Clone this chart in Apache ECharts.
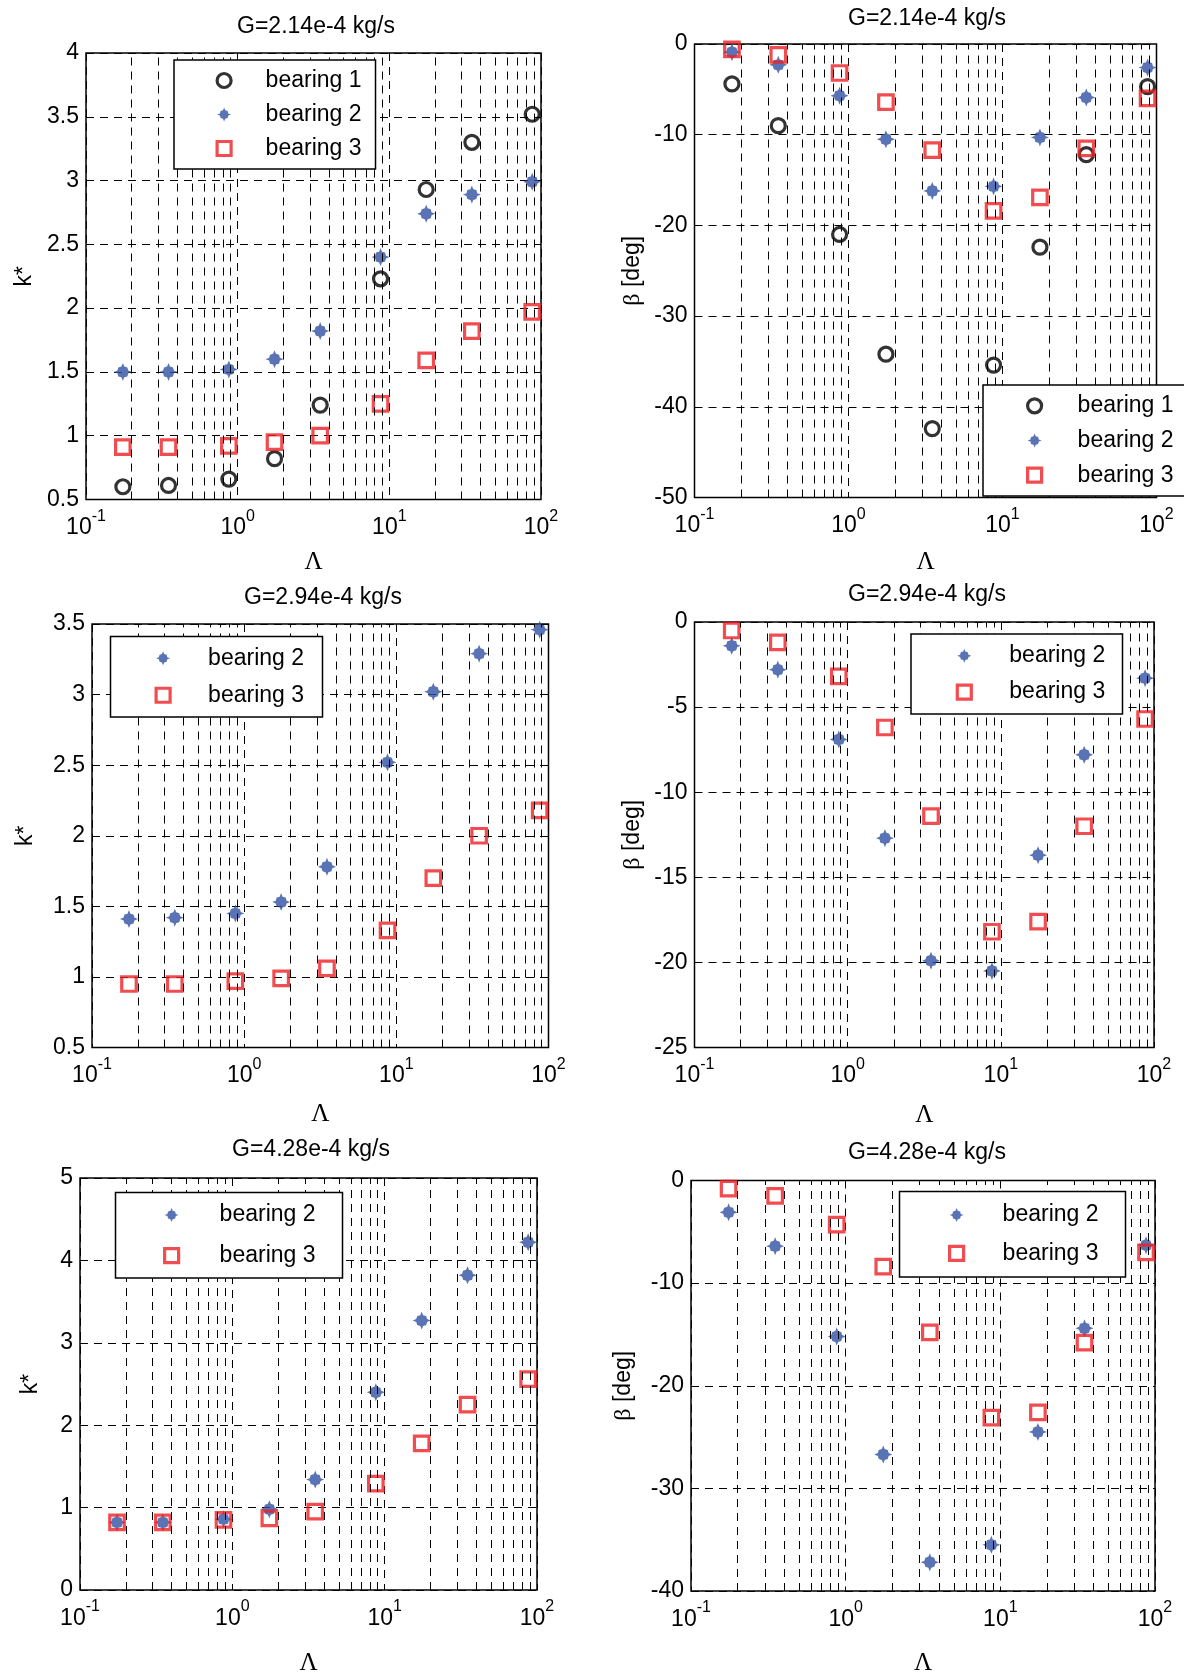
<!DOCTYPE html>
<html><head><meta charset="utf-8">
<script src="https://cdn.jsdelivr.net/npm/echarts@6/dist/echarts.min.js"></script>
<style>html,body{margin:0;padding:0;background:#fff}#c{width:1184px;height:1677px}</style>
</head><body><div id="c"></div>
<script>
// ---------- data ----------
const lambda = [0.175, 0.35, 0.875, 1.75, 3.5, 8.75, 17.5, 35, 87.5];
const xTickValues = [0.1, 1, 10, 100];
const minorGridValues = [0.2,0.3,0.4,0.5,0.6,0.7,0.8,0.9,2,3,4,5,6,7,8,9,20,30,40,50,60,70,80,90];
const titleTexts = ['G=2.14e-4 kg/s','G=2.14e-4 kg/s','G=2.94e-4 kg/s','G=2.94e-4 kg/s','G=4.28e-4 kg/s','G=4.28e-4 kg/s'];
const yNames = ['k*','{g|β} [deg]','k*','{g|β} [deg]','k*','{g|β} [deg]'];
const xName = 'Λ';

// G = 2.14e-4 kg/s : stiffness k*
const k214_b1 = [0.60, 0.61, 0.66, 0.82, 1.24, 2.23, 2.93, 3.30, 3.52];
const k214_b2 = [1.50, 1.50, 1.52, 1.60, 1.82, 2.40, 2.74, 2.89, 2.99];
const k214_b3 = [0.91, 0.91, 0.92, 0.95, 1.00, 1.25, 1.59, 1.82, 1.97];
// G = 2.14e-4 kg/s : beta [deg]
const b214_b1 = [-4.4, -9.0, -21.0, -34.2, -42.4, -35.4, -22.4, -12.2, -4.7];
const b214_b2 = [-0.9, -2.3, -5.7, -10.5, -16.2, -15.7, -10.3, -5.9, -2.6];
const b214_b3 = [-0.6, -1.2, -3.2, -6.4, -11.7, -18.4, -16.9, -11.5, -6.0];
// G = 2.94e-4 kg/s
const k294_b2 = [1.41, 1.42, 1.45, 1.53, 1.78, 2.52, 3.02, 3.29, 3.46];
const k294_b3 = [0.95, 0.95, 0.97, 0.99, 1.06, 1.33, 1.70, 2.00, 2.18];
const b294_b2 = [-1.4, -2.8, -6.9, -12.7, -19.9, -20.5, -13.7, -7.8, -3.3];
const b294_b3 = [-0.5, -1.2, -3.2, -6.2, -11.4, -18.2, -17.6, -12.0, -5.7];
// G = 4.28e-4 kg/s
const k428_b2 = [0.82, 0.82, 0.86, 0.98, 1.34, 2.40, 3.27, 3.82, 4.22];
const k428_b3 = [0.82, 0.82, 0.85, 0.87, 0.95, 1.29, 1.78, 2.25, 2.56];
const b428_b2 = [-3.1, -6.4, -15.2, -26.7, -37.2, -35.5, -24.5, -14.4, -6.3];
const b428_b3 = [-0.8, -1.5, -4.3, -8.4, -14.8, -23.1, -22.6, -15.8, -7.0];

// y-axis ranges [min, max, interval]
const yRanges = [[0.5,4,0.5],[-50,0,10],[0.5,3.5,0.5],[-25,0,5],[0,5,1],[-40,0,10]];

// ---------- styles / layout ----------
const SANS = "'Liberation Sans', Arial, Helvetica, sans-serif";
const SERIF = "'Liberation Serif', 'Times New Roman', serif";
const STAR = 'path://M0,-10 L1.6,-6 L5,-5 L6,-1.6 L10,0 L6,1.6 L5,5 L1.6,6 L0,10 L-1.6,6 L-5,5 L-6,1.6 L-10,0 L-6,-1.6 L-5,-5 L-1.6,-6 Z';
const styles = {
  'bearing 1': {symbol:'circle', symbolSize:14, itemStyle:{color:'rgba(0,0,0,0)', borderColor:'#000', borderWidth:3.2}, icon:'circle', bw:3.2},
  'bearing 2': {symbol:STAR, symbolSize:18, itemStyle:{color:'#3050a2', borderWidth:0}, icon:STAR, bw:0},
  'bearing 3': {symbol:'rect', symbolSize:14.5, itemStyle:{color:'rgba(0,0,0,0)', borderColor:'#ee2024', borderWidth:3.2}, icon:'rect', bw:3.2}
};
const gridLine = {type:[8,6], color:'#000', width:1};

const panels = [
  {grid:{left:86, top:53, width:455, height:446.5}, title:[311,22], yGap:50, xGap:50,
   legend:{left:174, top:60, padding:[9,14,9,41.5], tp:29.5, gap:11},
   series:[['bearing 1',k214_b1],['bearing 2',k214_b2],['bearing 3',k214_b3]]},
  {grid:{left:694.5, top:44, width:462, height:453.5}, title:[922,14], yGap:50, xGap:52,
   legend:{left:983, top:385, padding:[9.3,20,9.3,43], tp:31, gap:11.7},
   series:[['bearing 1',b214_b1],['bearing 2',b214_b2],['bearing 3',b214_b3]]},
  {grid:{left:92, top:624, width:456.5, height:423.5}, title:[318,593], yGap:55, xGap:54,
   legend:{left:110.5, top:636.5, padding:[10.25,18.5,10.25,44], tp:33, gap:14},
   series:[['bearing 2',k294_b2],['bearing 3',k294_b3]]},
  {grid:{left:694.5, top:622, width:459.5, height:425.5}, title:[922,590], yGap:50, xGap:55,
   legend:{left:911, top:634, padding:[10.3,17.3,10.3,44.7], tp:33, gap:13.3},
   series:[['bearing 2',b294_b2],['bearing 3',b294_b3]]},
  {grid:{left:80, top:1178, width:457, height:414}, title:[306,1145], yGap:38, xGap:61,
   legend:{left:115.5, top:1192.6, padding:[10.9,27,10.9,47.5], tp:36, gap:17.6},
   series:[['bearing 2',k428_b2],['bearing 3',k428_b3]]},
  {grid:{left:691, top:1180.5, width:464, height:412}, title:[922,1148], yGap:55, xGap:60,
   legend:{left:899.5, top:1191.5, padding:[12,27,12,48.5], tp:34, gap:15.4},
   series:[['bearing 2',b428_b2],['bearing 3',b428_b3]]}
];

const option = {animation:false, backgroundColor:'#fff', title:[], grid:[], xAxis:[], yAxis:[], legend:[], series:[]};

panels.forEach((p, i) => {
  option.grid.push(Object.assign({show:true, borderColor:'#000', borderWidth:1.5, backgroundColor:'transparent'}, p.grid));
  option.title.push({text:titleTexts[i], left:p.title[0], top:p.title[1]-12, textAlign:'center',
    textStyle:{fontSize:23, fontWeight:'normal', color:'#000', fontFamily:SANS}});
  option.xAxis.push({gridIndex:i, type:'log', logBase:10, min:xTickValues[0], max:xTickValues[xTickValues.length-1],
    axisLine:{show:false}, axisTick:{show:false},
    splitLine:{show:true, lineStyle:gridLine},
    axisLabel:{margin:9, color:'#000', fontFamily:SANS,
      formatter:v => '{b|10}{s|' + Math.round(Math.log10(v)) + '}',
      rich:{b:{fontSize:23, lineHeight:31, verticalAlign:'bottom', fontFamily:SANS, color:'#000'},
            s:{fontSize:16, lineHeight:15, verticalAlign:'top', fontFamily:SANS, color:'#000'}}},
    name:xName, nameLocation:'middle', nameGap:p.xGap,
    nameTextStyle:{fontFamily:SERIF, fontSize:25, color:'#000'}});
  const yr = yRanges[i];
  option.yAxis.push({gridIndex:i, type:'value', min:yr[0], max:yr[1], interval:yr[2],
    axisLine:{show:false}, axisTick:{show:false},
    splitLine:{show:true, lineStyle:gridLine},
    axisLabel:{fontSize:23, color:'#000', margin:7, fontFamily:SANS},
    name:yNames[i], nameLocation:'middle', nameRotate:90, nameGap:p.yGap,
    nameTextStyle:{fontSize:23, color:'#000', fontFamily:SANS, rich:{g:{fontSize:24, fontFamily:SERIF, color:'#000'}}}});
  // minor logarithmic grid lines
  option.series.push({type:'line', name:'_grid'+i, xAxisIndex:i, yAxisIndex:i, data:[], silent:true, z:1,
    markLine:{silent:true, symbol:['none','none'], label:{show:false}, animation:false,
      lineStyle:gridLine, emphasis:{disabled:true}, data:minorGridValues.map(v => ({xAxis:v}))}});
  p.series.forEach(([name, vals]) => {
    const st = styles[name];
    option.series.push({type:'scatter', name:name, xAxisIndex:i, yAxisIndex:i, z:3,
      symbol:st.symbol, symbolSize:st.symbolSize, itemStyle:st.itemStyle,
      data:lambda.map((x, j) => [x, vals[j]])});
  });
  const L = p.legend;
  option.legend.push({orient:'vertical', left:L.left, top:L.top, padding:L.padding, itemGap:L.gap,
    itemWidth:14, itemHeight:14, borderColor:'#000', borderWidth:1.5, backgroundColor:'#ffffff', zlevel:1, z:10,
    selectedMode:false,
    textStyle:{fontSize:23, lineHeight:22, color:'#000', fontFamily:SANS, padding:[0,0,0,L.tp]},
    data:p.series.map(([name]) => ({name:name, icon:styles[name].icon, itemStyle:{borderWidth:styles[name].bw}}))});
});

const chart = echarts.init(document.getElementById('c'), null, {renderer:'canvas'});
chart.setOption(option);
</script>
</body></html>
